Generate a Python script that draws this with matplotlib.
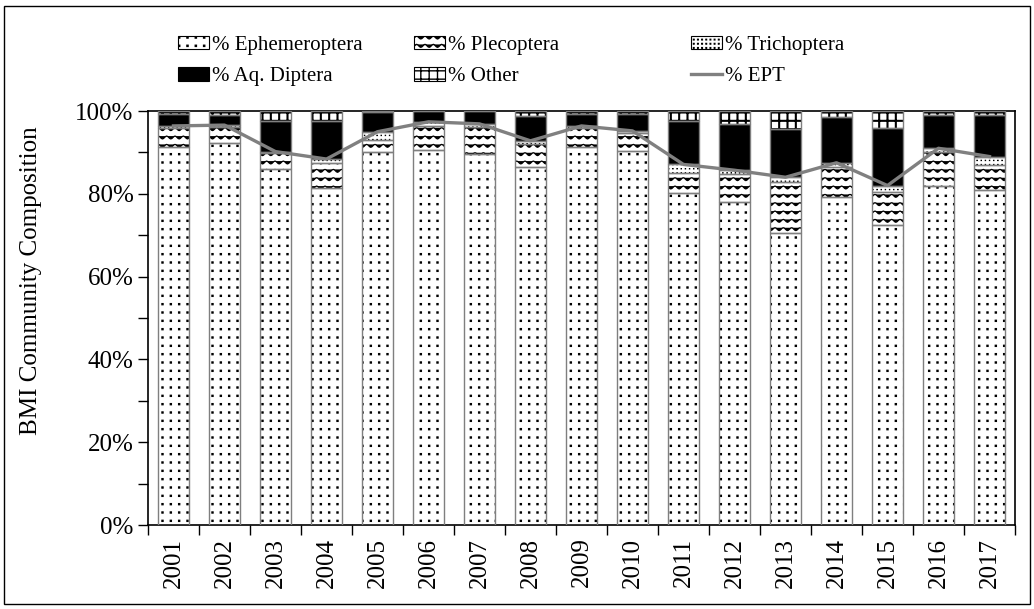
import warnings
import numpy as np
import matplotlib
matplotlib.use('Agg')
import matplotlib.pyplot as plt
from matplotlib import hatch as mhatch
from matplotlib.path import Path
from matplotlib.patches import Patch, Rectangle
from matplotlib.lines import Line2D
from matplotlib.ticker import PercentFormatter, MultipleLocator

warnings.filterwarnings('ignore')

years = ['2001', '2002', '2003', '2004', '2005', '2006', '2007', '2008', '2009',
         '2010', '2011', '2012', '2013', '2014', '2015', '2016', '2017']
ephemeroptera = [91.2, 92.2, 86.0, 81.3, 90.2, 90.7, 89.6, 86.4, 91.2,
                 90.4, 80.1, 78.1, 70.6, 79.3, 72.5, 82.0, 80.9]
plecoptera = [4.8, 4.0, 3.8, 6.1, 2.8, 5.8, 6.6, 5.6, 4.6,
              4.2, 5.0, 6.7, 12.3, 7.2, 7.9, 8.2, 6.1]
trichoptera = [0.4, 0.4, 0.4, 1.0, 2.0, 0.9, 0.7, 0.8, 0.6,
               0.6, 2.0, 0.9, 1.1, 1.0, 1.6, 0.8, 2.0]
aq_diptera = [2.9, 2.4, 7.4, 9.2, 4.8, 2.5, 3.0, 6.1, 3.0,
              4.2, 10.5, 11.1, 11.6, 11.1, 14.0, 8.0, 10.0]
other = [0.7, 1.0, 2.4, 2.4, 0.2, 0.1, 0.1, 1.1, 0.6,
         0.6, 2.4, 3.2, 4.4, 1.4, 4.0, 1.0, 1.0]
ept = [96.4, 96.6, 90.2, 88.4, 95.0, 97.4, 96.9, 92.8, 96.4,
       95.2, 87.1, 85.7, 84.0, 87.5, 82.0, 91.0, 89.0]


# custom hatches: '~' wavy rows, ':' aligned square dots
class Waves(mhatch.HatchPatternBase):
    def __init__(self, hatch, density):
        self.num_rows = hatch.count('~') * density
        self.steps = 8
        self.pts = self.num_rows * self.steps + 1
        self.num_vertices = self.num_rows * self.pts

    def set_vertices_and_codes(self, vertices, codes):
        n = self.num_rows
        xs = np.linspace(0, 1, self.pts)
        wave = 0.17 / n * np.cos(2 * np.pi * n * xs)
        for r in range(n):
            sl = slice(r * self.pts, (r + 1) * self.pts)
            vertices[sl, 0] = xs
            vertices[sl, 1] = (r + 0.5) / n + wave
            codes[sl] = Path.LINETO
            codes[r * self.pts] = Path.MOVETO


class GridDots(mhatch.HatchPatternBase):
    filled = True

    def __init__(self, hatch, density):
        self.num_rows = hatch.count(':') * density
        self.num_vertices = self.num_rows ** 2 * 5

    def set_vertices_and_codes(self, vertices, codes):
        n = self.num_rows
        s = 0.07 / n
        sq = np.array([[-s, -s], [s, -s], [s, s], [-s, s], [-s, -s]])
        k = 0
        for i in range(n):
            for j in range(n):
                vertices[k:k + 5] = sq + [(i + 0.5) / n, (j + 0.5) / n]
                codes[k:k + 5] = [Path.MOVETO, Path.LINETO, Path.LINETO,
                                  Path.LINETO, Path.CLOSEPOLY]
                k += 5


mhatch._hatch_types.extend([Waves, GridDots])

plt.rcParams['font.family'] = ['Liberation Serif', 'DejaVu Serif']

fig = plt.figure(figsize=(10.34, 6.09), dpi=100)
ax = fig.add_axes([0.1431, 0.1379, 0.8385, 0.6798])

x = np.arange(len(years))
w = 0.59
series = [
    (ephemeroptera, 'white', '::', 0.9),
    (plecoptera, 'white', '~~', 0.9),
    (trichoptera, 'white', '::::', 0.6),
    (aq_diptera, 'black', None, 1.0),
    (other, 'white', '++', 1.5),
]
bottom = np.zeros(len(years))
for vals, fc, h, hlw in series:
    with plt.rc_context({'hatch.linewidth': hlw}):
        bars = ax.bar(x, vals, w, bottom=bottom, color=fc, hatch=h,
                      edgecolor='black', linewidth=0, zorder=2)
    for b in bars:
        if hasattr(b, 'set_hatch_linewidth'):
            b.set_hatch_linewidth(hlw)
    ax.bar(x, vals, w, bottom=bottom, fill=False,
           edgecolor='#7f7f7f', linewidth=1.0, zorder=3)
    bottom += np.array(vals)

ax.plot(x, ept, color='#808080', linewidth=2.4, zorder=4)

ax.set_xlim(-0.5, len(years) - 0.5)
ax.set_ylim(0, 100)
ax.yaxis.set_major_locator(MultipleLocator(20))
ax.yaxis.set_minor_locator(MultipleLocator(10))
ax.yaxis.set_major_formatter(PercentFormatter(100, decimals=0))
ax.tick_params(axis='y', which='both', direction='out', length=7, width=1,
               labelsize=18)
ax.set_xticks(x)
ax.set_xticklabels(years, rotation=90, fontsize=18)
ax.set_xticks(np.arange(len(years) + 1) - 0.5, minor=True)
ax.tick_params(axis='x', which='major', length=0, pad=9)
ax.tick_params(axis='x', which='minor', direction='out', length=7, width=1)
ax.set_ylabel('BMI Community Composition', fontsize=18)
ax.yaxis.set_label_coords(-0.122, 0.59)
for s in ax.spines.values():
    s.set_linewidth(1.2)


# legend: three columns placed separately
def hpatch(fc, h, hlw):
    p = Patch(facecolor=fc, hatch=h, edgecolor='black', linewidth=0.8)
    if hasattr(p, 'set_hatch_linewidth'):
        p.set_hatch_linewidth(hlw)
    return p


cols = [
    ([hpatch('white', '::', 0.9), hpatch('black', None, 1.0)],
     ['% Ephemeroptera', '% Aq. Diptera'], 0.172),
    ([hpatch('white', '~~', 0.9), hpatch('white', '++', 1.5)],
     ['% Plecoptera', '% Other'], 0.400),
    ([hpatch('white', '::::', 0.6), Line2D([], [], color='#808080', linewidth=2.4)],
     ['% Trichoptera', '% EPT'], 0.668),
]
for handles, labels, xpos in cols:
    fig.legend(handles, labels, loc='upper left',
               bbox_to_anchor=(xpos, 0.941), frameon=False,
               fontsize=15, handlelength=1.5, handleheight=0.6,
               handletextpad=0.15, labelspacing=0.6,
               borderpad=0, borderaxespad=0)

fig.add_artist(Rectangle((0.004, 0.008), 0.992, 0.982, transform=fig.transFigure,
                         fill=False, edgecolor='black', linewidth=1.0))

fig.savefig('out.png', dpi=100)
